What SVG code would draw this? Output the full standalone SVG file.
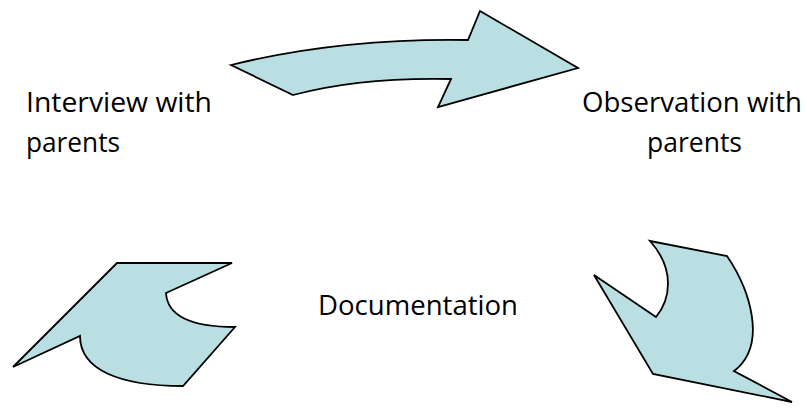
<svg xmlns="http://www.w3.org/2000/svg" width="807" height="412" viewBox="0 0 807 412">
<style>
.arrow{fill:#b9dfe3;stroke:#000;stroke-width:1.8;stroke-linejoin:miter}
.lbl{font-family:"Open Sans","Liberation Sans",sans-serif;font-size:27px;fill:#000}
</style>
<rect width="807" height="412" fill="#fff"/>
<g id="connectors">
<path id="arrow-top" class="arrow" d="M231,65 Q340,38 468,40 L480,11 L578,68 L438,107 L451,79 Q360,77 293,95 Z"/>
<path id="arrow-right" class="arrow" d="M650,241 L727,256 C750,290 768,345 734,371 L792,402 L653,374 L594,275 L656,317 C670,300 676,270 650,241 Z"/>
<path id="arrow-left" class="arrow" d="M117,263 L232,263 L166,293 Q168,327 235,327 L183,386 C120,386 80,370 80,336 L13,367 Z"/>
</g>
<g id="node-interview">
<text class="lbl" x="26" y="112" textLength="186" lengthAdjust="spacingAndGlyphs">Interview with</text>
<text class="lbl" x="26" y="152" textLength="94" lengthAdjust="spacingAndGlyphs">parents</text>
</g>
<g id="node-observation">
<text class="lbl" x="582" y="112" textLength="220" lengthAdjust="spacingAndGlyphs">Observation with</text>
<text class="lbl" x="647" y="152" textLength="95" lengthAdjust="spacingAndGlyphs">parents</text>
</g>
<g id="node-documentation">
<text class="lbl" x="318" y="315" textLength="200" lengthAdjust="spacingAndGlyphs">Documentation</text>
</g>
</svg>
